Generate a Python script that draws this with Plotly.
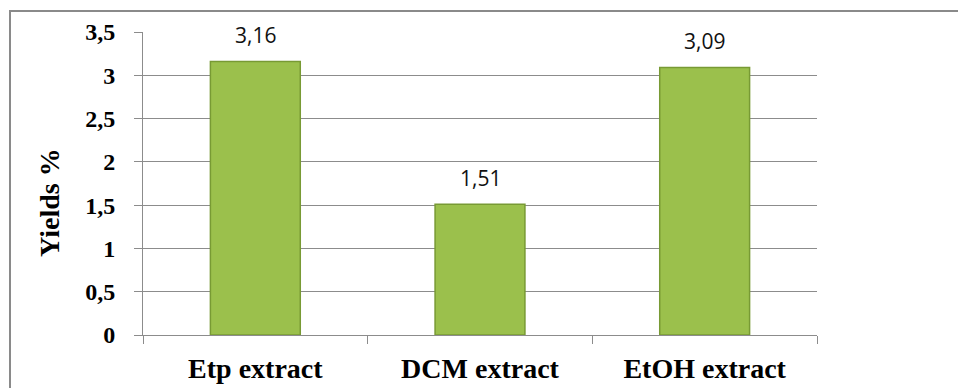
import plotly.graph_objects as go

# Extraction yields per solvent
categories = ["Etp extract", "DCM extract", "EtOH extract"]
yields = [3.16, 1.51, 3.09]
y_ticks = [0, 0.5, 1, 1.5, 2, 2.5, 3, 3.5]

W, H = 958, 388
L, R, T, B = 143, 141, 32, 53

fig = go.Figure()
fig.add_trace(go.Bar(
    x=categories,
    y=yields,
    width=0.4,
    marker=dict(color="#9bc04c", line=dict(color="#789a34", width=1.5)),
    hoverinfo="skip",
))

# Value labels above each bar, comma decimal
for c, v in zip(categories, yields):
    fig.add_annotation(
        x=c, y=v, text=f"{v:.2f}".replace(".", ","),
        showarrow=False, yanchor="bottom", yshift=10,
        font=dict(family="Open Sans", size=21, color="#111111"),
    )

pw, ph = W - L - R, H - T - B

# Y axis title
fig.add_annotation(
    text="<b>Yields %</b>", textangle=-90, showarrow=False,
    xref="paper", yref="paper", x=(49 - L) / pw, y=(H - B - 202) / ph,
    xanchor="center", yanchor="middle",
    font=dict(family="Liberation Serif", size=28, color="black"),
)

# Outer chart frame
fig.add_shape(
    type="rect", xref="paper", yref="paper",
    x0=(10 - L) / pw, x1=(W + 5 - L) / pw,
    y0=-(B + 5) / ph, y1=1 + (T - 11) / ph,
    line=dict(color="#8a8a8a", width=2), layer="below",
)

fig.update_layout(
    width=W, height=H,
    margin=dict(l=L, r=R, t=T, b=B, autoexpand=False),
    paper_bgcolor="white", plot_bgcolor="white",
    separators=", ",
    showlegend=False,
    bargap=0.6,
)
fig.update_yaxes(
    range=[0, 3.5], tickvals=y_ticks, automargin=False,
    showgrid=True, gridcolor="#8c8c8c", gridwidth=1,
    showline=True, linecolor="#8c8c8c", linewidth=1,
    ticks="outside", ticklen=8, tickcolor="#8c8c8c",
    ticklabelstandoff=14,
    tickfont=dict(family="Liberation Serif", size=24, color="black", weight="bold"),
    zeroline=False,
)
fig.update_xaxes(
    automargin=False,
    showline=True, linecolor="#8c8c8c", linewidth=1,
    ticks="outside", ticklen=8, tickcolor="#8c8c8c", tickson="boundaries",
    ticklabelstandoff=8,
    tickfont=dict(family="Liberation Serif", size=28, color="black", weight="bold"),
)

fig.write_html("out.html")
